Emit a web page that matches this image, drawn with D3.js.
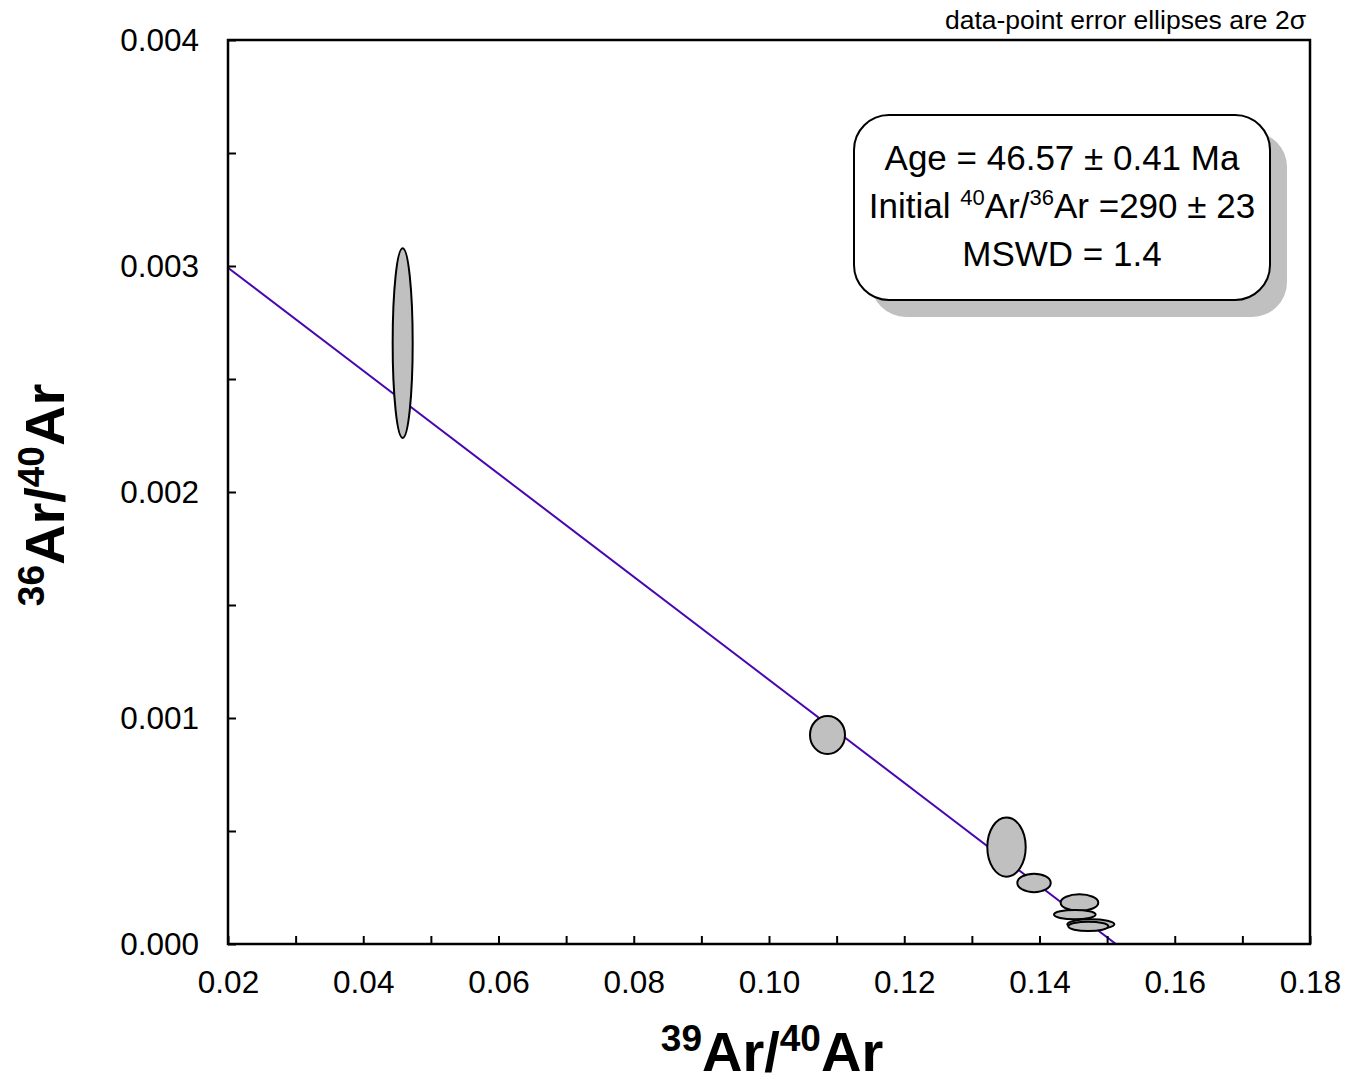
<!DOCTYPE html>
<html lang="en-us">
<head>
<meta charset="utf-8">
<title>Inverse isochron</title>
<script src="https://d3js.org/d3.v7.min.js"></script>
<style>
  body { margin: 0; background: #fff; }
  svg text { font-family: "Liberation Sans", Arial, sans-serif; }
</style>
</head>
<body>
<div id="chart"></div>
<script>
// data: 39Ar/40Ar vs 36Ar/40Ar, with 2-sigma half widths
const ar39 = [0.04583, 0.10865, 0.13512, 0.13919, 0.14591, 0.14522, 0.14759, 0.14722];
const ar36 = [0.002659, 0.000925, 0.000429, 0.000270, 0.000183, 0.000130, 0.000087, 0.000078];
const err39 = [0.00148, 0.00259, 0.00284, 0.00247, 0.00278, 0.00308, 0.00348, 0.00296];
const err36 = [0.000420, 0.000084, 0.000131, 0.0000407, 0.0000367, 0.0000208, 0.0000221, 0.0000208];

// isochron fit: y-intercept = 1/initial ratio, x-intercept
const yIntercept = 1 / 290;
const xIntercept = 0.1513;

const xTicks = d3.range(0.02, 0.1801, 0.01);
const yTicks = d3.range(0, 0.00401, 0.0005);
const boxLines = ["Age = 46.57 ± 0.41 Ma", "Initial ", "MSWD = 1.4"];

const width = 1350, height = 1083;
const mLeft = 228, mRight = 1310, mTop = 40, mBottom = 944;

const svg = d3.select('#chart').append('svg')
  .attr('width', width)
  .attr('height', height);

const x = d3.scaleLinear().domain([0.02, 0.18]).range([mLeft, mRight]);
const y = d3.scaleLinear().domain([0, 0.004]).range([mBottom, mTop]);

svg.append('clipPath').attr('id', 'clip')
  .append('rect').attr('x', mLeft).attr('y', mTop)
  .attr('width', mRight - mLeft).attr('height', mBottom - mTop);

// fit line
const slope = -yIntercept / xIntercept;
svg.append('line')
  .attr('clip-path', 'url(#clip)')
  .attr('x1', x(0.02)).attr('y1', y(yIntercept + slope * 0.02))
  .attr('x2', x(xIntercept)).attr('y2', y(0))
  .attr('stroke', '#4806b0')
  .attr('stroke-width', 2);

// error ellipses
svg.append('g').selectAll('ellipse')
  .data(ar39.map((d, i) => ({ x: d, y: ar36[i], ex: err39[i], ey: err36[i] })))
  .enter()
  .append('ellipse')
  .attr('cx', d => x(d.x))
  .attr('cy', d => y(d.y))
  .attr('rx', d => x(d.x + d.ex) - x(d.x))
  .attr('ry', d => y(d.y) - y(d.y + d.ey))
  .attr('fill', '#c0c0c0')
  .attr('stroke', '#000')
  .attr('stroke-width', 2);

// axes
const xAxis = d3.axisBottom(x)
  .tickValues(xTicks)
  .tickSizeInner(-8).tickSizeOuter(0)
  .tickPadding(27)
  .tickFormat((d, i) => i % 2 === 0 ? d3.format('.2f')(d) : '');

svg.append('g')
  .attr('transform', `translate(0, ${mBottom})`)
  .call(xAxis)
  .call(g => g.select('.domain').remove())
  .call(g => g.selectAll('.tick line').attr('stroke-width', 2))
  .call(g => g.selectAll('.tick text').attr('font-size', 31.5).attr('fill', '#000'));

const yAxis = d3.axisLeft(y)
  .tickValues(yTicks)
  .tickSizeInner(-8).tickSizeOuter(0)
  .tickPadding(29)
  .tickFormat((d, i) => i % 2 === 0 ? d3.format('.3f')(d) : '');

svg.append('g')
  .attr('transform', `translate(${mLeft}, 0)`)
  .call(yAxis)
  .call(g => g.select('.domain').remove())
  .call(g => g.selectAll('.tick line').attr('stroke-width', 2))
  .call(g => g.selectAll('.tick text').attr('font-size', 31.5).attr('fill', '#000'));

// frame
svg.append('rect')
  .attr('x', mLeft).attr('y', mTop)
  .attr('width', mRight - mLeft).attr('height', mBottom - mTop)
  .attr('fill', 'none')
  .attr('stroke', '#000')
  .attr('stroke-width', 2.5);

// note
svg.append('text')
  .attr('x', 1306).attr('y', 29)
  .attr('text-anchor', 'end')
  .attr('font-size', 26.5)
  .text('data-point error ellipses are 2σ');

// results box
const bx = 854, by = 115, bw = 416, bh = 185;
svg.append('rect')
  .attr('x', bx + 17).attr('y', by + 17)
  .attr('width', bw).attr('height', bh)
  .attr('rx', 35)
  .attr('fill', '#c0c0c0');
svg.append('rect')
  .attr('x', bx).attr('y', by)
  .attr('width', bw).attr('height', bh)
  .attr('rx', 35)
  .attr('fill', '#fff')
  .attr('stroke', '#000')
  .attr('stroke-width', 2);

const cx = bx + bw / 2;
svg.append('text').attr('x', cx).attr('y', 170)
  .attr('text-anchor', 'middle').attr('font-size', 35)
  .text(boxLines[0]);

const t2 = svg.append('text').attr('x', cx).attr('y', 218)
  .attr('text-anchor', 'middle').attr('font-size', 35);
t2.append('tspan').text(boxLines[1]);
t2.append('tspan').attr('font-size', 22).attr('dy', -13).text('40');
t2.append('tspan').attr('dy', 13).text('Ar/');
t2.append('tspan').attr('font-size', 22).attr('dy', -13).text('36');
t2.append('tspan').attr('dy', 13).text('Ar =290 ± 23');

svg.append('text').attr('x', cx).attr('y', 266)
  .attr('text-anchor', 'middle').attr('font-size', 35)
  .text(boxLines[2]);

// axis titles
function isoLabel(sel, a, b) {
  sel.attr('font-weight', 'bold').attr('font-size', 56).attr('text-anchor', 'middle');
  sel.append('tspan').attr('font-size', 37).attr('dy', -20).text(a);
  sel.append('tspan').attr('dy', 20).text('Ar/');
  sel.append('tspan').attr('font-size', 37).attr('dy', -20).text(b);
  sel.append('tspan').attr('dy', 20).text('Ar');
}

svg.append('text')
  .attr('x', (mLeft + mRight) / 2 + 3).attr('y', 1071)
  .call(isoLabel, '39', '40');

svg.append('text')
  .attr('transform', `translate(64, ${(mTop + mBottom) / 2 + 3}) rotate(-90)`)
  .call(isoLabel, '36', '40');
</script>
</body>
</html>
